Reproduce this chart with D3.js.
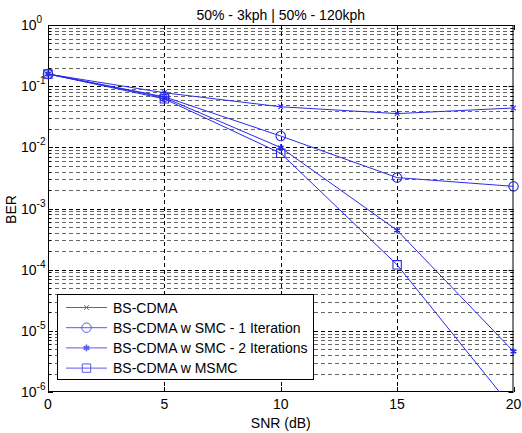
<!DOCTYPE html>
<html><head><meta charset="utf-8">
<script src="https://cdn.jsdelivr.net/npm/d3@7"></script>
<style>body{margin:0;background:#fff;} text{font-family:"Liberation Sans",Arial,sans-serif;}</style>
</head><body>
<svg id="c" width="522" height="433"></svg>
<script>
const snr = [0, 5, 10, 15, 20];
const bsCdma = [0.158, 0.078, 0.046, 0.0356, 0.044];
const smc1 = [0.158, 0.067, 0.0153, 0.0032, 0.0023];
const smc2 = [0.158, 0.065, 0.0099, 0.00044, 0.0000046];
const msmc = [0.158, 0.062, 0.0080, 0.00012, 0.00000052];
const seriesNames = ["BS-CDMA", "BS-CDMA w SMC - 1 Iteration", "BS-CDMA w SMC - 2 Iterations", "BS-CDMA w MSMC"];
const xTicks = [0, 5, 10, 15, 20];
const yExps = [0, -1, -2, -3, -4, -5, -6];
const title = "50% - 3kph | 50% - 120kph";

const svg = d3.select("#c");
const L = 48, R = 513.5, T = 25, B = 392;
const x = d3.scaleLinear().domain([0, 20]).range([L, R]);
const y = d3.scaleLog().domain([1e-6, 1]).range([B, T]);
const blue = "#2a2ae8";
const FS = 14;

svg.append("rect").attr("x", L).attr("y", T).attr("width", R - L).attr("height", B - T).attr("fill", "#fff");

// grid
const g = svg.append("g");
const minor = [];
for (let e = -6; e < 0; e++) for (let m = 2; m <= 9; m++) minor.push(m * Math.pow(10, e));
g.selectAll("line.mn").data(minor).join("line")
  .attr("x1", L).attr("x2", R).attr("y1", d => Math.round(y(d)) + 0.5).attr("y2", d => Math.round(y(d)) + 0.5)
  .attr("stroke", "#666").attr("stroke-width", 1).attr("stroke-dasharray", "4,3");
g.selectAll("line.mj").data(yExps.slice(1, -1)).join("line")
  .attr("x1", L).attr("x2", R).attr("y1", d => Math.round(y(Math.pow(10, d))) + 0.5).attr("y2", d => Math.round(y(Math.pow(10, d))) + 0.5)
  .attr("stroke", "#000").attr("stroke-width", 1).attr("stroke-dasharray", "4,3");
g.selectAll("line.vx").data(xTicks.slice(1, -1)).join("line")
  .attr("x1", d => Math.round(x(d)) + 0.5).attr("x2", d => Math.round(x(d)) + 0.5).attr("y1", T).attr("y2", B)
  .attr("stroke", "#000").attr("stroke-width", 1).attr("stroke-dasharray", "4,3");

// ticks (inside)
const tk = svg.append("g").attr("stroke", "#000");
xTicks.forEach(t => {
  const px = Math.round(x(t)) + 0.5;
  tk.append("line").attr("x1", px).attr("x2", px).attr("y1", B).attr("y2", B - 5);
  tk.append("line").attr("x1", px).attr("x2", px).attr("y1", T).attr("y2", T + 5);
});
yExps.forEach(e => {
  const py = Math.round(y(Math.pow(10, e))) + 0.5;
  tk.append("line").attr("x1", L).attr("x2", L + 5).attr("y1", py).attr("y2", py);
  tk.append("line").attr("x1", R).attr("x2", R - 5).attr("y1", py).attr("y2", py);
});
minor.forEach(d => {
  const py = Math.round(y(d)) + 0.5;
  tk.append("line").attr("x1", L).attr("x2", L + 3).attr("y1", py).attr("y2", py);
  tk.append("line").attr("x1", R).attr("x2", R - 3).attr("y1", py).attr("y2", py);
});

svg.append("rect").attr("x", L + 0.5).attr("y", T + 0.5).attr("width", R - L - 1).attr("height", B - T - 1)
  .attr("fill", "none").attr("stroke", "#000");

// x tick labels
svg.selectAll("text.xl").data(xTicks).join("text")
  .attr("x", d => x(d)).attr("y", 409).attr("text-anchor", "middle").attr("font-size", FS).text(d => d);
// y tick labels
yExps.forEach(e => {
  const t = svg.append("text").attr("x", 21).attr("y", y(Math.pow(10, e)) + 5).attr("font-size", FS);
  t.append("tspan").text("10");
  t.append("tspan").attr("dy", -7).attr("font-size", 10).text(String(e));
});

svg.append("text").attr("x", (L + R) / 2).attr("y", 428).attr("text-anchor", "middle").attr("font-size", FS).text("SNR (dB)");
svg.append("text").attr("transform", `translate(16,${(T + B) / 2 + 1}) rotate(-90)`).attr("text-anchor", "middle").attr("font-size", FS).text("BER");
svg.append("text").attr("x", (L + R) / 2).attr("y", 20).attr("text-anchor", "middle").attr("font-size", FS).text(title);

svg.append("clipPath").attr("id", "clip").append("rect").attr("x", L).attr("y", T).attr("width", R - L).attr("height", B - T);

const data = [bsCdma, smc1, smc2, msmc];
const symbols = [d3.symbolTimes, d3.symbolCircle, d3.symbolAsterisk, d3.symbolSquare];
const sizes = [16, 70, 30, 70];
const line = d3.line().x((d, i) => x(snr[i])).y(d => y(d));
const plot = svg.append("g").attr("clip-path", "url(#clip)");
data.forEach(s => {
  plot.append("path").attr("d", line(s)).attr("fill", "none").attr("stroke", blue).attr("stroke-width", 1);
});
const mk = svg.append("g");
data.forEach((s, k) => {
  s.forEach((v, i) => {
    if (v < 1e-6) return;
    mk.append("path").attr("d", d3.symbol().type(symbols[k]).size(sizes[k])())
      .attr("transform", `translate(${x(snr[i])},${y(v)})`)
      .attr("fill", "none").attr("stroke", blue).attr("stroke-width", k === 2 ? 1.6 : 1.1);
  });
});

// legend
const lg = svg.append("g");
lg.append("rect").attr("x", 57.5).attr("y", 294.5).attr("width", 256).attr("height", 85).attr("fill", "#fff").attr("stroke", "#000");
seriesNames.forEach((n, k) => {
  const ly = 307.5 + k * 20.2;
  lg.append("line").attr("x1", 66).attr("x2", 107).attr("y1", ly).attr("y2", ly).attr("stroke", "#5a5af0");
  lg.append("path").attr("d", d3.symbol().type(symbols[k]).size(sizes[k])())
    .attr("transform", `translate(86.5,${ly})`).attr("fill", "none").attr("stroke", "#5a5af0").attr("stroke-width", k === 2 ? 1.6 : 1);
  lg.append("text").attr("x", 113).attr("y", ly + 5).attr("font-size", FS).text(n);
});
</script>
</body></html>
